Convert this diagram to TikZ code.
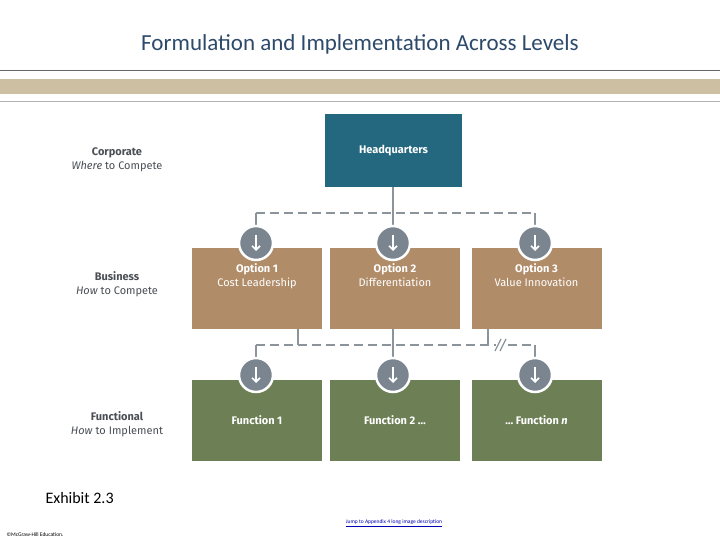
\documentclass[tikz,border=0pt]{standalone}
\usepackage{fontspec}
\usetikzlibrary{arrows.meta}
\setmainfont{Carlito}
\newfontfamily\boxf{Fira Sans}
\begin{document}
\begin{tikzpicture}[x=1pt,y=-1pt,
  hq/.style={fill=hqc,minimum width=137pt,minimum height=73pt,inner sep=0pt,text=white,font=\boxf\bfseries\fontsize{11}{13}\selectfont},
  opt/.style={fill=optc,minimum width=130pt,minimum height=81pt,inner sep=0pt,text=white,align=center,font=\boxf\fontsize{11}{14}\selectfont},
  fun/.style={fill=func,minimum width=130pt,minimum height=81pt,inner sep=0pt,text=white,font=\boxf\bfseries\fontsize{11}{13}\selectfont},
  circ/.style={circle,fill=circc,draw=white,line width=2.5pt,minimum size=34pt,inner sep=0pt},
  dl/.style={draw=linec,line width=1.6pt,dash pattern=on 9pt off 5pt},
  sl/.style={draw=linec,line width=1.6pt},
  lbl/.style={align=center,text=labc,font=\boxf\fontsize{11}{14}\selectfont}]
\definecolor{hqc}{HTML}{24687F}
\definecolor{optc}{HTML}{B08C69}
\definecolor{func}{HTML}{6D7F55}
\definecolor{circc}{HTML}{7A8590}
\definecolor{linec}{HTML}{8C949B}
\definecolor{labc}{HTML}{4A4F55}
\definecolor{titc}{HTML}{2E4A6B}
\definecolor{band}{HTML}{CDBFA1}
\useasboundingbox (0,0) rectangle (720,540);
\fill[white] (0,0) rectangle (720,540);
\node[text=titc,font=\fontsize{23}{27}\selectfont] (title) at (360,44) {Formulation and Implementation Across Levels};
\draw[gray!80!black,line width=1pt] (0,71) -- (720,71);
\fill[band] (0,79) rectangle (720,94);
\draw[gray!60,line width=0.8pt] (0,101) -- (720,101);
% boxes
\node[hq] (hq) at (393.5,150.5) {Headquarters};
\node[opt] (o1) at (257,288.5) {\textbf{Option 1}\\Cost Leadership\\[12pt]};
\node[opt] (o2) at (395,288.5) {\textbf{Option 2}\\Differentiation\\[12pt]};
\node[opt] (o3) at (536.5,288.5) {\textbf{Option 3}\\Value Innovation\\[12pt]};
\node[fun] (f1) at (257,420.5) {Function 1};
\node[fun] (f2) at (395,420.5) {Function 2 \dots};
\node[fun] (f3) at (536.5,420.5) {\dots\ Function \textit{n}};
% dashed connectors
\coordinate (j1) at (393,213);
\coordinate (a1) at (256,213);
\coordinate (b1) at (535,213);
\draw[sl] (hq.south -| j1) -- (j1);
\draw[dl] (a1) -- (b1);
\coordinate (j2a) at (298,345);
\coordinate (j2b) at (393,345);
\coordinate (j2c) at (488,345);
\coordinate (a2) at (256,345);
\coordinate (b2) at (535,345);
\draw[sl] (o1.south -| j2a) -- (j2a);
\draw[sl] (o2.south -| j2b) -- (j2b);
\draw[sl] (o3.south -| j2c) -- (j2c);
\draw[dl] (a2) -- (b2);
\fill[white] (496,338) rectangle (506,352);
\draw[sl,line width=1.2pt] (495,351) -- (501,339) (500,351) -- (506,339);
\foreach \x/\n in {256/a,393/b,535/c}{
  \draw[sl] (\x,213) -- (\x,228);
  \draw[sl] (\x,345) -- (\x,360);
  \node[circ] (c1\n) at (\x,243) {};
  \node[circ] (c2\n) at (\x,375) {};
  \draw[white,line width=1.6pt,-{Straight Barb[length=4pt]}] ([yshift=8pt]c1\n.center) -- ([yshift=-8pt]c1\n.center);
  \draw[white,line width=1.6pt,-{Straight Barb[length=4pt]}] ([yshift=8pt]c2\n.center) -- ([yshift=-8pt]c2\n.center);
}
% left labels
\node[lbl] (l1) at (117,159.5) {\textbf{Corporate}\\\textit{Where} to Compete};
\node[lbl] (l2) at (117,284.5) {\textbf{Business}\\\textit{How} to Compete};
\node[lbl] (l3) at (117,424.5) {\textbf{Functional}\\\textit{How} to Implement};
\node[anchor=west,font=\fontsize{16}{18}\selectfont] (ex) at (42,498) {Exhibit 2.3};
\node[text=blue!70!black,font=\fontsize{5.5}{6}\selectfont] (jump) at (394,523) {\underline{Jump to Appendix 4 long image description}};
\node[anchor=west,font=\fontsize{5.5}{6}\selectfont] (copy) at (3,535) {©McGraw-Hill Education.};
\end{tikzpicture}
\end{document}
